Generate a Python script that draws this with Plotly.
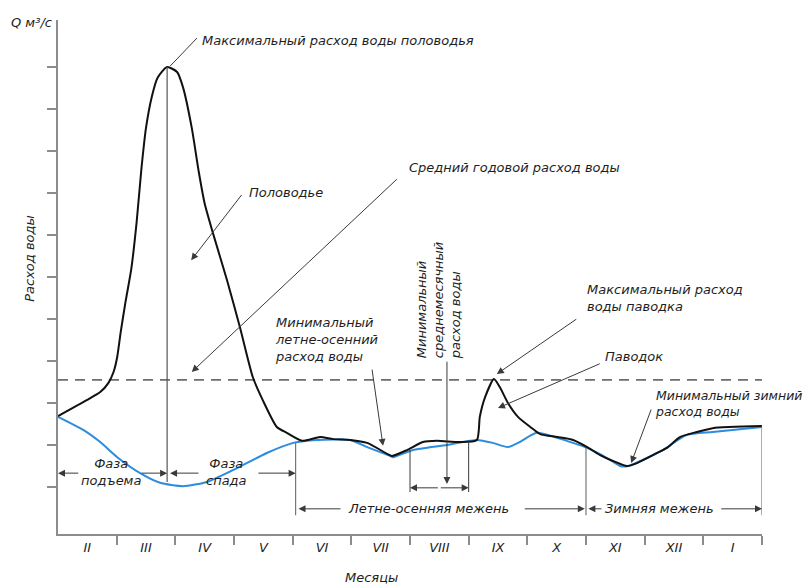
import plotly.graph_objects as go

# ---------------- data ----------------
MONTHS = ["II", "III", "IV", "V", "VI", "VII", "VIII", "IX", "X", "XI", "XII", "I"]

# hydrograph (black): time in months from start of February, discharge in tick units
HYDRO_T = [0.00, 0.49, 0.72, 0.86, 0.95, 1.01, 1.07, 1.15, 1.25, 1.34, 1.42, 1.50, 1.60,
           1.70, 1.86, 2.03, 2.13, 2.28, 2.40, 2.50, 2.64, 2.88, 3.10, 3.32, 3.49, 3.73,
           3.90, 4.16, 4.47, 4.69, 4.98, 5.27, 5.61, 5.69, 5.95, 6.22, 6.46, 6.85, 7.14,
           7.19, 7.28, 7.43, 7.53, 7.67, 7.84, 8.05, 8.22, 8.51, 8.78, 9.02, 9.24, 9.46,
           9.70, 9.87, 10.21, 10.38, 10.60, 10.89, 11.16, 12.00]
HYDRO_Q = [2.69, 3.07, 3.26, 3.48, 3.75, 4.10, 4.70, 5.40, 6.20, 7.30, 8.55, 9.55, 10.30,
           10.75, 11.00, 10.88, 10.52, 9.55, 8.50, 7.75, 7.05, 5.93, 4.81, 3.62, 3.07, 2.43,
           2.29, 2.10, 2.19, 2.14, 2.12, 2.05, 1.79, 1.74, 1.88, 2.07, 2.10, 2.07, 2.12,
           2.67, 3.14, 3.57, 3.38, 3.00, 2.67, 2.43, 2.26, 2.19, 2.12, 1.95, 1.76, 1.62,
           1.50, 1.57, 1.81, 1.93, 2.19, 2.31, 2.40, 2.45]

# underground (base) flow (blue)
BASE_T = [0.00, 0.43, 0.72, 1.01, 1.40, 1.74, 2.13, 2.54, 2.98, 3.56, 4.01, 4.41, 4.98,
          5.27, 5.66, 5.71, 6.05, 6.63, 7.02, 7.14, 7.41, 7.67, 7.87, 8.16, 8.51, 8.78,
          9.02, 9.36, 9.58, 9.72, 10.04, 10.31, 10.72, 11.16, 12.00]
BASE_Q = [2.67, 2.36, 2.07, 1.71, 1.33, 1.10, 1.02, 1.12, 1.40, 1.81, 2.05, 2.12, 2.12,
          1.95, 1.74, 1.71, 1.88, 2.00, 2.10, 2.12, 2.05, 1.95, 2.07, 2.29, 2.17, 2.05,
          1.93, 1.69, 1.50, 1.50, 1.69, 1.88, 2.24, 2.31, 2.43]

MEAN_Q = 3.55          # mean annual discharge
Y_TICKS = list(range(1, 12))

# ---------------- styling ----------------
FONT = "DejaVu Sans"
TXT = "#1e1e1e"
AXIS = "#8c8c8c"
LEAD = "#3a3a3a"
BLUE = "#2b8ce0"

fig = go.Figure()

fig.add_trace(go.Scatter(x=[0, 12], y=[MEAN_Q, MEAN_Q], mode="lines",
                         line=dict(color="#6e6e6e", width=1.6, dash="10px,7px"),
                         hoverinfo="skip", showlegend=False))
fig.add_trace(go.Scatter(x=BASE_T, y=BASE_Q, mode="lines",
                         line=dict(color=BLUE, width=2, shape="spline", smoothing=0.6),
                         showlegend=False))
fig.add_trace(go.Scatter(x=HYDRO_T, y=HYDRO_Q, mode="lines",
                         line=dict(color="#111111", width=2, shape="spline", smoothing=0.6),
                         showlegend=False))

peak_i = HYDRO_Q.index(max(HYDRO_Q))
peak_t, peak_q = HYDRO_T[peak_i], HYDRO_Q[peak_i]

shapes = []
def seg(x0, y0, x1, y1, color=LEAD, w=1):
    shapes.append(dict(type="line", xref="x", yref="y", x0=x0, y0=y0, x1=x1, y1=y1,
                       line=dict(color=color, width=w), layer="above"))

# vertical line from flood peak
seg(peak_t, peak_q, peak_t, 1.12, "#555555", 1.2)
# leader to peak label
seg(peak_t + 0.05, peak_q + 0.02, 2.37, 11.69)
# boundaries of low-water periods
seg(4.05, 2.07, 4.05, 0.33, "#777777", 1.2)
seg(9.0, 1.93, 9.0, 0.33, "#777777", 1.2)
seg(12.0, 2.45, 12.0, 0.33, "#777777", 1.2)
# bracket for minimal monthly discharge
seg(6.0, 1.88, 6.0, 0.88, LEAD, 1)
seg(7.0, 2.10, 7.0, 0.88, LEAD, 1)

ann = []
def text(x, y, s, xanchor="left", size=13, angle=0, align="left", ref="data"):
    r = "x" if ref == "data" else "paper"
    ry = "y" if ref == "data" else "paper"
    ann.append(dict(x=x, y=y, xref=r, yref=ry, text=s, showarrow=False,
                    xanchor=xanchor, yanchor="middle", textangle=angle, align=align,
                    font=dict(family=FONT, size=size, color=TXT, style="italic")))

def arrow(x, y, ax, ay, color=LEAD):
    ann.append(dict(x=x, y=y, ax=ax, ay=ay, xref="x", yref="y", axref="x", ayref="y",
                    text="", showarrow=True, arrowhead=2, arrowsize=1.4, arrowwidth=1,
                    arrowcolor=color, standoff=0, startstandoff=0))

# labels with leaders / arrows
text(2.42, 11.64, "Максимальный расход воды половодья")
text(3.22, 8.02, "Половодье")
arrow(2.27, 6.40, 3.15, 7.99)
text(5.95, 8.60, "Средний годовой расход воды")
arrow(2.28, 3.74, 5.80, 8.36)
text(3.66, 4.52, "Минимальный<br>летне-осенний<br>расход воды")
arrow(5.54, 1.98, 5.35, 3.83)
text(6.48, 5.45, "Минимальный<br>среднемесячный<br>расход воды", xanchor="center", angle=-90)
arrow(6.63, 1.07, 6.63, 4.02)
arrow(6.0, 0.98, 6.5, 0.98)
arrow(7.0, 0.98, 6.5, 0.98)
text(8.98, 5.50, "Максимальный расход<br>воды паводка")
arrow(7.48, 3.69, 8.86, 5.02)
text(9.29, 4.10, "Паводок")
arrow(7.50, 2.88, 9.26, 3.95)
text(10.15, 3.00, "Минимальный зимний<br>расход воды", size=12.5)
arrow(9.77, 1.57, 10.12, 2.88)

# phase / period arrows
text(0.90, 1.36, "Фаза<br>подъема", xanchor="center", align="center")
arrow(0.0, 1.33, 0.37, 1.33)
arrow(1.86, 1.33, 1.40, 1.33)
text(2.88, 1.36, "Фаза<br>спада", xanchor="center", align="center")
arrow(1.91, 1.33, 2.42, 1.33)
arrow(4.05, 1.33, 3.39, 1.33)
text(6.32, 0.48, "Летне-осенняя межень", xanchor="center")
arrow(4.10, 0.48, 4.84, 0.48)
arrow(8.98, 0.48, 7.93, 0.48)
text(10.26, 0.48, "Зимняя межень", xanchor="center")
arrow(9.04, 0.48, 9.29, 0.48)
arrow(12.0, 0.48, 11.28, 0.48)

# axis titles (paper coordinates, outside the plotting area)
text(-0.037, 0.995, "Q м³/с", xanchor="center", size=13, ref="paper")
text(-0.040, 0.537, "Расход воды", xanchor="center", angle=-90, ref="paper")
text(0.445, -0.084, "Месяцы", xanchor="center", ref="paper")

fig.update_layout(
    width=812, height=587,
    margin=dict(l=50, r=58, t=12, b=61),
    paper_bgcolor="white", plot_bgcolor="white",
    shapes=shapes, annotations=ann,
    xaxis=dict(range=[0, 12], showgrid=False, zeroline=False,
               showline=True, linecolor=AXIS, linewidth=2,
               tickmode="array", tickvals=[i + 0.5 for i in range(12)], ticktext=MONTHS,
               ticks="", ticklen=0,
               tickfont=dict(family=FONT, size=13, color=TXT, style="italic"),
               minor=dict(tickmode="array", tickvals=list(range(1, 13)), ticks="outside",
                          ticklen=9, tickwidth=2, tickcolor=AXIS, showgrid=False)),
    yaxis=dict(range=[-0.119, 12.119], showgrid=False, zeroline=False,
               showline=True, linecolor=AXIS, linewidth=2,
               tickmode="array", tickvals=Y_TICKS, showticklabels=False,
               ticks="outside", ticklen=9, tickwidth=2, tickcolor=AXIS),
)

fig.write_html("out.html")
